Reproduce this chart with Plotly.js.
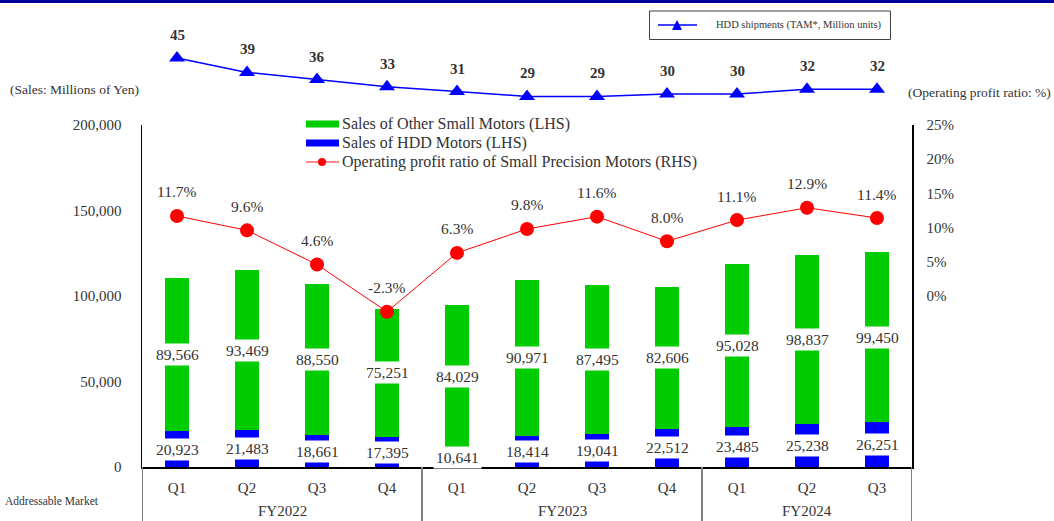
<!DOCTYPE html>
<html>
<head>
<meta charset="utf-8">
<script src="https://cdn.plot.ly/plotly-3.0.1.min.js"></script>
<style>
  html, body { margin: 0; padding: 0; background: #ffffff; }
  #chart { width: 1054px; height: 521px; }
</style>
</head>
<body>
<div id="chart"></div>
<script>
// Quarterly results by fiscal year
const fiscalYears = ['FY2022', 'FY2022', 'FY2022', 'FY2022',
                     'FY2023', 'FY2023', 'FY2023', 'FY2023',
                     'FY2024', 'FY2024', 'FY2024'];
const quarters = ['Q1', 'Q2', 'Q3', 'Q4', 'Q1', 'Q2', 'Q3', 'Q4', 'Q1', 'Q2', 'Q3'];

// Sales, millions of yen (LHS)
const hddMotorSales   = [20923, 21483, 18661, 17395, 10641, 18414, 19041, 22512, 23485, 25238, 26251];
const otherMotorSales = [89566, 93469, 88550, 75251, 84029, 90971, 87495, 82606, 95028, 98837, 99450];

// Operating profit ratio of small precision motors, % (RHS)
const operatingProfitRatio = [11.7, 9.6, 4.6, -2.3, 6.3, 9.8, 11.6, 8.0, 11.1, 12.9, 11.4];

// HDD shipments, TAM, million units
const hddShipments = [45, 39, 36, 33, 31, 29, 29, 30, 30, 32, 32];

// Axis ticks
const salesTicks = [0, 50000, 100000, 150000, 200000];
const ratioTicks = [0, 5, 10, 15, 20, 25];

// ---- page geometry (pixels) ----
const W = 1054, H = 521;
const M = { l: 142, r: 142, t: 0, b: 54 };
const PW = W - M.l - M.r, PH = H - M.t - M.b;
const px = x => (x - M.l) / PW;          // page x -> paper x
const py = y => (H - M.b - y) / PH;      // page y -> paper y

const FONT = 'Liberation Serif, Times New Roman, serif';
const TXT = '#333333';
const GREEN = '#00CC00', BLUE = '#0000FF', RED = '#FF0000';

// quarter slots along the category axis
const slots = quarters.map((q, i) => i);
const fmt = v => v.toLocaleString('en-US');

// fiscal-year groups: first/last slot of each year
const groups = [];
fiscalYears.forEach((fy, i) => {
  const g = groups[groups.length - 1];
  if (g && g.name === fy) g.end = i;
  else groups.push({ name: fy, start: i, end: i });
});

const traces = [
  {
    type: 'bar', name: 'Sales of HDD Motors (LHS)',
    x: slots, y: hddMotorSales, yaxis: 'y',
    marker: { color: BLUE, line: { width: 0 } }, hoverinfo: 'skip'
  },
  {
    type: 'bar', name: 'Sales of Other Small Motors (LHS)',
    x: slots, y: otherMotorSales, yaxis: 'y',
    marker: { color: GREEN, line: { width: 0 } }, hoverinfo: 'skip'
  },
  {
    type: 'scatter', mode: 'lines+markers',
    name: 'Operating profit ratio of Small Precision Motors (RHS)',
    x: slots, y: operatingProfitRatio, yaxis: 'y2',
    line: { color: RED, width: 1 },
    marker: { color: RED, size: 14, symbol: 'circle' }, hoverinfo: 'skip'
  },
  {
    type: 'scatter', mode: 'lines+markers',
    name: 'HDD shipments (TAM*, Million units)',
    x: slots, y: hddShipments, yaxis: 'y3',
    line: { color: BLUE, width: 1.5 },
    marker: { color: BLUE, size: 14, symbol: 'triangle-up' }, hoverinfo: 'skip'
  }
];

const annotations = [];

// segment value labels on white plates
hddMotorSales.forEach((v, i) => {
  annotations.push({
    x: slots[i], y: v / 2, xref: 'x', yref: 'y', text: fmt(v), showarrow: false,
    bgcolor: '#ffffff', borderpad: 2,
    font: { family: FONT, size: 15.5, color: TXT }
  });
});
otherMotorSales.forEach((v, i) => {
  annotations.push({
    x: slots[i], y: hddMotorSales[i] + v / 2, xref: 'x', yref: 'y', text: fmt(v), showarrow: false,
    bgcolor: '#ffffff', borderpad: 2,
    font: { family: FONT, size: 15.5, color: TXT }
  });
});
// ratio labels
operatingProfitRatio.forEach((v, i) => {
  annotations.push({
    x: slots[i], y: v, xref: 'x', yref: 'y2', text: v.toFixed(1) + '%', showarrow: false,
    yshift: 24, font: { family: FONT, size: 15.5, color: TXT }
  });
});
// shipment labels
hddShipments.forEach((v, i) => {
  annotations.push({
    x: slots[i], y: v, xref: 'x', yref: 'y3', text: '<b>' + v + '</b>', showarrow: false,
    yshift: 23, font: { family: FONT, size: 15, color: TXT }
  });
});
// fiscal-year labels under the quarters
groups.forEach(g => {
  annotations.push({
    x: (g.start + g.end) / 2, y: py(511), xref: 'x', yref: 'paper', text: g.name,
    showarrow: false, yanchor: 'middle',
    font: { family: FONT, size: 15, color: TXT }
  });
});

// unit captions and footnote
const paperText = (x, y, text, size, xanchor) => ({
  x: px(x), y: py(y), xref: 'paper', yref: 'paper', text, showarrow: false,
  xanchor: xanchor || 'left', yanchor: 'middle',
  font: { family: FONT, size, color: TXT }
});
annotations.push(paperText(8, 89, '(Sales: Millions of Yen)', 13.5, 'left'));
annotations.push(paperText(906, 92, '(Operating profit ratio: %)', 13.5, 'left'));
annotations.push(paperText(3, 501, 'Addressable Market', 11.5, 'left'));

// main legend
const legendRows = [
  { y: 124, text: 'Sales of Other Small Motors (LHS)' },
  { y: 143, text: 'Sales of HDD Motors (LHS)' },
  { y: 162, text: 'Operating profit ratio of Small Precision Motors (RHS)' }
];
legendRows.forEach(r => annotations.push(paperText(340, r.y, r.text, 16, 'left')));
// shipment legend
annotations.push(paperText(714, 25, 'HDD shipments (TAM*, Million units)', 10.5, 'left'));

const shapes = [
  // header band
  { type: 'rect', xref: 'paper', yref: 'paper', x0: px(0), x1: px(W), y0: py(3), y1: py(0),
    fillcolor: '#000099', line: { width: 0 }, layer: 'above' },
  // legend swatches
  { type: 'rect', xref: 'paper', yref: 'paper', x0: px(306), x1: px(339), y0: py(127.5), y1: py(120.5),
    fillcolor: GREEN, line: { width: 0 } },
  { type: 'rect', xref: 'paper', yref: 'paper', x0: px(306), x1: px(339), y0: py(146.5), y1: py(139.5),
    fillcolor: BLUE, line: { width: 0 } },
  { type: 'line', xref: 'paper', yref: 'paper', x0: px(306), x1: px(339), y0: py(162), y1: py(162),
    line: { color: '#ff6666', width: 1.5 } },
  { type: 'circle', xref: 'paper', yref: 'paper', x0: px(318), x1: px(326), y0: py(166), y1: py(158),
    fillcolor: RED, line: { width: 0 } },
  // shipment legend frame
  { type: 'rect', xref: 'paper', yref: 'paper', x0: px(649.5), x1: px(890.5), y0: py(39.5), y1: py(11),
    fillcolor: 'rgba(0,0,0,0)', line: { color: '#404040', width: 1 } },
  { type: 'line', xref: 'paper', yref: 'paper', x0: px(658), x1: px(697), y0: py(25), y1: py(25),
    line: { color: BLUE, width: 1.5 } },
  { type: 'path', xref: 'paper', yref: 'paper',
    path: `M ${px(672)} ${py(30)} L ${px(682)} ${py(30)} L ${px(677)} ${py(20)} Z`,
    fillcolor: BLUE, line: { width: 0 } }
];
// fiscal-year dividers below the axis
const bounds = [groups[0].start - 0.5].concat(groups.map(g => g.end + 0.5));
bounds.forEach(b => shapes.push({
  type: 'line', xref: 'x', yref: 'paper', x0: b, x1: b, y0: py(467), y1: py(H),
  line: { color: '#808080', width: 2 }
}));

const layout = {
  width: W, height: H,
  margin: M,
  paper_bgcolor: '#ffffff', plot_bgcolor: 'rgba(0,0,0,0)',
  showlegend: false,
  barmode: 'stack', bargap: 0.67,
  font: { family: FONT, color: TXT },
  xaxis: {
    range: [-0.5, slots.length - 0.5],
    tickvals: slots, ticktext: quarters,
    showline: true, linecolor: '#000000', linewidth: 1.5,
    showgrid: false, zeroline: false, ticks: '', ticklabelstandoff: 6,
    tickfont: { family: FONT, size: 15, color: TXT }
  },
  yaxis: {
    domain: [0, py(125)], range: [0, 200000],
    tickvals: salesTicks, tickformat: ',d',
    showline: true, linecolor: '#000000', linewidth: 1.5,
    showgrid: false, zeroline: false, ticks: '', ticklabelstandoff: 16,
    tickfont: { family: FONT, size: 15, color: TXT }
  },
  yaxis2: {
    overlaying: 'y', side: 'right', range: [-25, 25],
    tickvals: ratioTicks, ticktext: ratioTicks.map(t => t + '%'),
    showline: true, linecolor: '#000000', linewidth: 1.5,
    showgrid: false, zeroline: false, ticks: '', ticklabelstandoff: 10,
    tickfont: { family: FONT, size: 15, color: TXT }
  },
  yaxis3: {
    domain: [py(110), py(40)], range: [23.33, 52.5], anchor: 'x',
    visible: false, showgrid: false, zeroline: false
  },
  annotations, shapes
};

Plotly.newPlot('chart', traces, layout, { staticPlot: true, displayModeBar: false });
</script>
</body>
</html>
